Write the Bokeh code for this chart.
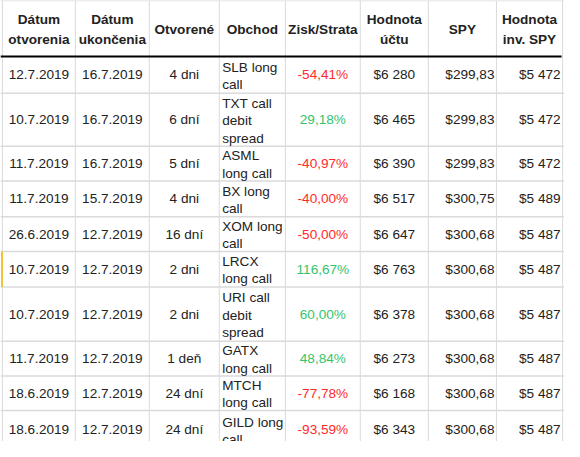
from bokeh.plotting import figure
from bokeh.models import Range1d, ColumnDataSource
from bokeh.core.properties import value
from bokeh.embed import file_html
from bokeh.resources import INLINE

# ---- data ----
headers = [["Dátum", "otvorenia"], ["Dátum", "ukončenia"], ["Otvorené"], ["Obchod"],
           ["Zisk/Strata"], ["Hodnota", "účtu"], ["SPY"], ["Hodnota", "inv. SPY"]]
open_dates = ["12.7.2019", "10.7.2019", "11.7.2019", "11.7.2019", "26.6.2019",
              "10.7.2019", "10.7.2019", "11.7.2019", "18.6.2019", "18.6.2019"]
close_dates = ["16.7.2019", "16.7.2019", "16.7.2019", "15.7.2019", "12.7.2019",
               "12.7.2019", "12.7.2019", "12.7.2019", "12.7.2019", "12.7.2019"]
durations = ["4 dni", "6 dní", "5 dní", "4 dni", "16 dní", "2 dni", "2 dni", "1 deň", "24 dní", "24 dní"]
trades = [["SLB long", "call"], ["TXT call", "debit", "spread"], ["ASML", "long call"],
          ["BX long", "call"], ["XOM long", "call"], ["LRCX", "long call"],
          ["URI call", "debit", "spread"], ["GATX", "long call"], ["MTCH", "long call"],
          ["GILD long", "call"]]
pnl = [-54.41, 29.18, -40.97, -40.00, -50.00, 116.67, 60.00, 48.84, -77.78, -93.59]
account = [6280, 6465, 6390, 6517, 6647, 6763, 6378, 6273, 6168, 6343]
spy = [299.83, 299.83, 299.83, 300.75, 300.68, 300.68, 300.68, 300.68, 300.68, 300.68]
inv_spy = [5472, 5472, 5472, 5489, 5487, 5487, 5487, 5487, 5487, 5487]

# ---- layout (reference pixel space) ----
col_edges = [2, 77, 153, 225, 293, 370, 440, 510, 578]
row_edges = [0, 58, 96, 151, 187, 224, 260, 297, 353, 389, 425, 465]
W, H = 580, 457
FW, FH = 564, 441
FONT = value("Liberation Sans")
FS = "13.6px"
TEXT_C = "#222222"
RED = "#ff2b2b"
GREEN = "#35c46c"
GRID = "#dadada"
LINE = 18

def fmt_pct(v):
    return ("%.2f" % v).replace(".", ",") + "%"

def fmt_thousands(v):
    s = "%d" % v
    return "$" + s[:-3] + " " + s[-3:]

def fmt_spy(v):
    return "$" + ("%.2f" % v).replace(".", ",")

p = figure(width=FW, height=FH, x_range=Range1d(0, W), y_range=Range1d(H, 0),
           output_backend="svg", toolbar_location=None, min_border=0)
p.axis.visible = False
p.grid.visible = False
p.outline_line_color = None
p.background_fill_color = "white"

# grid lines
p.segment(x0=col_edges, y0=[0] * len(col_edges), x1=col_edges, y1=[H] * len(col_edges),
          line_color=GRID, line_width=1)
hl = [y for i, y in enumerate(row_edges) if i != 1]
p.segment(x0=[0] * len(hl), y0=hl, x1=[W] * len(hl), y1=hl, line_color=GRID, line_width=1.5)
p.segment(x0=[0], y0=[row_edges[1]], x1=[W - 3], y1=[row_edges[1]], line_color="black", line_width=2)
# highlighted cell edge
p.segment(x0=[1.5], y0=[row_edges[6]], x1=[1.5], y1=[row_edges[7]], line_color="#f1c232", line_width=2)

# header text
hx, hy, ht = [], [], []
for c, lines in enumerate(headers):
    cx = (col_edges[c] + col_edges[c + 1]) / 2
    cy = (row_edges[0] + row_edges[1]) / 2 + 1
    n = len(lines)
    for i, t in enumerate(lines):
        hx.append(cx)
        hy.append(cy + (i - (n - 1) / 2) * 20)
        ht.append(t)
p.text(x=hx, y=hy, text=ht, text_font=FONT, text_font_size=FS, text_font_style="bold",
       text_align="center", text_baseline="middle", text_color=TEXT_C)

# body text
cx_, cy_, ct_, cal_, ccol_ = [], [], [], [], []
n_rows = len(open_dates)
for r in range(n_rows):
    cy = (row_edges[r + 1] + row_edges[r + 2]) / 2
    cells = [open_dates[r], close_dates[r], durations[r], None, fmt_pct(pnl[r]),
             fmt_thousands(account[r]), fmt_spy(spy[r]), fmt_thousands(inv_spy[r])]
    for c, t in enumerate(cells):
        if c == 3:
            continue
        if c in (6, 7):
            x = col_edges[c + 1] - 2
            al = "right"
        else:
            x = (col_edges[c] + col_edges[c + 1]) / 2
            al = "center"
        cx_.append(x); cy_.append(cy); ct_.append(t); cal_.append(al)
        ccol_.append((RED if pnl[r] < 0 else GREEN) if c == 4 else TEXT_C)
    lines = trades[r]
    n = len(lines)
    for i, t in enumerate(lines):
        cx_.append(col_edges[3] + 3)
        cy_.append(cy + 1 + (i - (n - 1) / 2) * LINE)
        ct_.append(t); cal_.append("left"); ccol_.append(TEXT_C)

src = ColumnDataSource(dict(x=cx_, y=cy_, text=ct_, align=cal_, color=ccol_))
p.text(x="x", y="y", text="text", source=src, text_font=FONT, text_font_size=FS,
       text_align="align", text_baseline="middle", text_color="color")

open("out.html", "w").write(file_html(p, INLINE))
